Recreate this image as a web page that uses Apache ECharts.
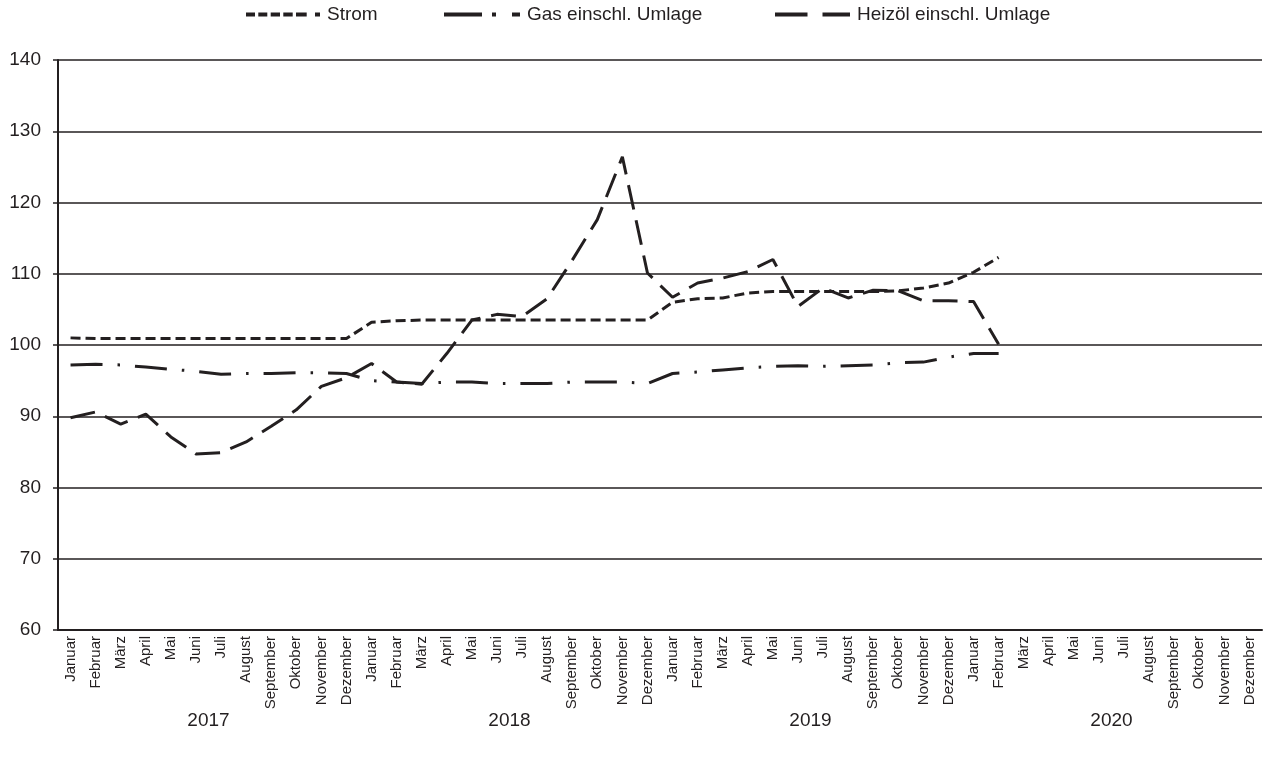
<!DOCTYPE html>
<html>
<head>
<meta charset="utf-8">
<script src="https://cdn.jsdelivr.net/npm/echarts@6/dist/echarts.min.js"></script>
<style>
html,body{margin:0;padding:0;background:#fff;}
#c{width:1271px;height:766px;}
</style>
</head>
<body>
<div id="c"></div>
<script>
const months = ['Januar','Februar','März','April','Mai','Juni','Juli','August','September','Oktober','November','Dezember'];
const years = ['2017','2018','2019','2020'];
const categories = [];
years.forEach(y => months.forEach(m => categories.push(m + '|' + y)));

const strom = [101.0,100.9,100.9,100.9,100.9,100.9,100.9,100.9,100.9,100.9,100.9,100.9,
  103.2,103.4,103.5,103.5,103.5,103.5,103.5,103.5,103.5,103.5,103.5,103.5,
  106.0,106.5,106.6,107.3,107.5,107.5,107.5,107.5,107.5,107.6,108.0,108.7,
  110.2,112.3];
const gas = [97.2,97.3,97.2,96.9,96.6,96.3,95.9,96.0,96.0,96.1,96.1,96.0,
  95.0,94.8,94.6,94.8,94.8,94.6,94.6,94.6,94.8,94.8,94.8,94.6,
  96.0,96.2,96.5,96.8,97.0,97.1,97.0,97.1,97.2,97.5,97.6,98.3,
  98.8,98.8];
const heizoel = [89.8,90.6,88.9,90.3,87.1,84.7,84.9,86.4,88.6,90.9,94.2,95.4,
  97.4,94.8,94.5,98.8,103.5,104.3,104.0,106.5,111.9,117.6,126.4,110.1,
  106.7,108.7,109.4,110.3,112.0,105.4,108.0,106.6,107.7,107.6,106.2,106.2,
  106.1,100.1];

const seriesNames = ['Strom','Gas einschl. Umlage','Heizöl einschl. Umlage'];
const ink = '#231f20';

function rectsPath(segs, h) {
  return 'path://' + segs.map(s => `M${s[0]},0L${s[1]},0L${s[1]},${h}L${s[0]},${h}Z`).join(' ');
}
const legendIcons = [
  rectsPath([[0,9],[12.3,21.3],[24.7,34],[37.3,46.7],[50,60.7],[69,74]], 4),
  rectsPath([[0,38],[48,52],[68,76]], 4),
  rectsPath([[0,32.5],[47.5,75]], 4)
];
const legendLeft = [246, 444, 775];
const legendW = [74, 76, 75];

const chart = echarts.init(document.getElementById('c'), null, {renderer:'canvas'});
chart.setOption({
  backgroundColor:'#fff',
  animation:false,
  textStyle:{fontFamily:'Liberation Sans, Arial, sans-serif', color:ink},
  legend: seriesNames.map((n, i) => ({
    top:5, left:legendLeft[i], padding:0,
    itemWidth:legendW[i], itemHeight:4,
    textStyle:{fontSize:19, color:ink, padding:[0,0,0,2]},
    itemStyle:{color:ink},
    data:[{name:n, icon:legendIcons[i]}]
  })),
  grid:{left:58, right:9, top:60, bottom:136},
  xAxis:[{
    type:'category', data:categories, boundaryGap:true,
    axisLine:{show:true, lineStyle:{color:ink, width:2}},
    axisTick:{show:false},
    axisLabel:{rotate:90, fontSize:15, color:ink, margin:6, interval:0,
      formatter:v => v.split('|')[0]}
  },{
    type:'category', data:years, position:'bottom', offset:80, boundaryGap:true,
    axisLine:{show:false}, axisTick:{show:false},
    axisLabel:{fontSize:19, color:ink, interval:0, margin:1}
  }],
  yAxis:{
    type:'value', min:60, max:140, interval:10,
    axisLine:{show:true, lineStyle:{color:ink, width:2}},
    axisTick:{show:true, length:5, lineStyle:{color:ink, width:1.5}},
    axisLabel:{fontSize:19, color:ink, margin:17},
    splitLine:{show:true, lineStyle:{color:ink, width:1.5}}
  },
  series:[{
    name:seriesNames[0], type:'line', data:strom, symbol:'none', xAxisIndex:0,
    lineStyle:{color:ink, width:3, type:[10,5]}, itemStyle:{color:ink}
  },{
    name:seriesNames[1], type:'line', data:gas, symbol:'none', xAxisIndex:0,
    lineStyle:{color:ink, width:3, type:[32,15,2.5,15]}, itemStyle:{color:ink}
  },{
    name:seriesNames[2], type:'line', data:heizoel, symbol:'none', xAxisIndex:0,
    lineStyle:{color:ink, width:3, type:[25,11]}, itemStyle:{color:ink}
  }]
});
</script>
</body>
</html>
